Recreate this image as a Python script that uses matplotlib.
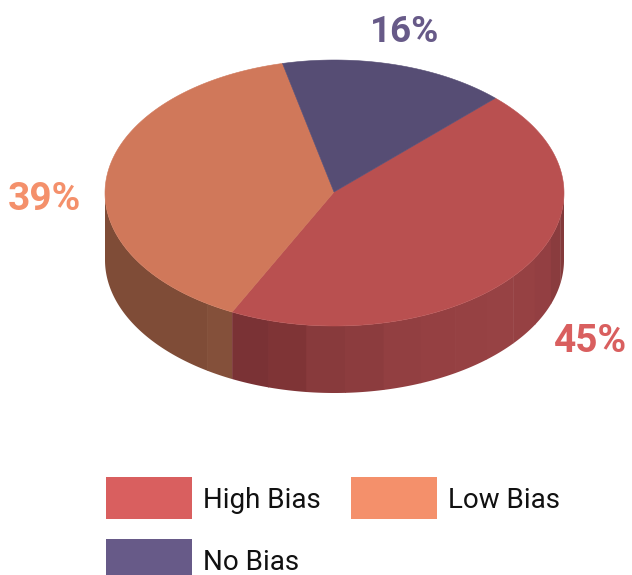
import numpy as np
import matplotlib
matplotlib.use('Agg')
from matplotlib import pyplot as plt
from matplotlib.patches import Rectangle

plt.rcParams['font.family'] = ['Roboto', 'DejaVu Sans']

#data
categories = ['High Bias', 'Low Bias', 'No Bias']
shares = [45, 39, 16]
pct_labels = ['45%', '39%', '16%']

#colors
LEGEND_COLORS = ['#d95f5f', '#f4906b', '#675a88']
TOP_COLORS = ['#b95050', '#d0785a', '#564d74']
LOW_WALL = ['#7f4c37', '#84503a']
HIGH_WALL = ['#7a3235', '#7f3436', '#883a3c', '#8c3c3e', '#923f41', '#954042',
             '#964143', '#974244', '#964143', '#933f42', '#8a3c3e', '#843a3b']

#ellipse geometry in pixels
CX, CY = 334.5, 193
A, B = 229.5, 133
APEX = (334, 192)
DEPTH = 67
START = 45.5 #degrees, right edge of the No Bias slice, slices go clockwise

W, H = 632, 575


def ell(t_deg):
    t = np.radians(t_deg)
    return CX + A*np.cos(t), CY - B*np.sin(t)


def wall(t0, t1, color):
    ts = np.linspace(t0, t1, 80)
    x, y = ell(ts)
    ax.fill(np.concatenate((x, x[::-1])), np.concatenate((y, y[::-1]+DEPTH)),
            color=color, lw=0, zorder=1)


fig = plt.figure(figsize=(W/100, H/100), dpi=100)
ax = fig.add_axes([0, 0, 1, 1])
ax.set_xlim(0, W)
ax.set_ylim(H, 0)
ax.axis('off')

#slice edges from the shares
sweeps = np.array(shares)*3.6
edges = START - np.concatenate(([0], np.cumsum(sweeps)))

#side wall, low bias part then high bias bands
wall(-180, edges[1]-7, LOW_WALL[0])
wall(edges[1]-7.2, edges[1], LOW_WALL[1])
band_edges = np.linspace(edges[1], 0, len(HIGH_WALL)+1)
for i in range(len(HIGH_WALL)):
    wall(band_edges[i], band_edges[i+1]+(0.2 if i < len(HIGH_WALL)-1 else 0), HIGH_WALL[i])

#top face
for i in range(len(shares)):
    ts = np.linspace(edges[i], edges[i+1], 200)
    x, y = ell(ts)
    ax.fill(np.concatenate(([APEX[0]], x)), np.concatenate(([APEX[1]], y)),
            color=TOP_COLORS[i], lw=0.4, zorder=2)

#percent labels
label_pos = [(591, 341), (44, 200), (405, 32)]
label_size = [28, 28, 26.5]
for i in range(len(shares)):
    ax.text(label_pos[i][0], label_pos[i][1], pct_labels[i], color=LEGEND_COLORS[i],
            fontsize=label_size[i], fontweight='bold', ha='center', va='center', zorder=3)

#legend
swatches = [(106, 477), (351, 477), (106, 539)]
for i in range(len(categories)):
    sx, sy = swatches[i]
    ax.add_patch(Rectangle((sx, sy), 86, 42, facecolor=LEGEND_COLORS[i], edgecolor='none'))
    ax.text(sx+97, sy+23, categories[i], color='#111111', fontsize=20,
            ha='left', va='center')

fig.savefig('out.png', dpi=100)
